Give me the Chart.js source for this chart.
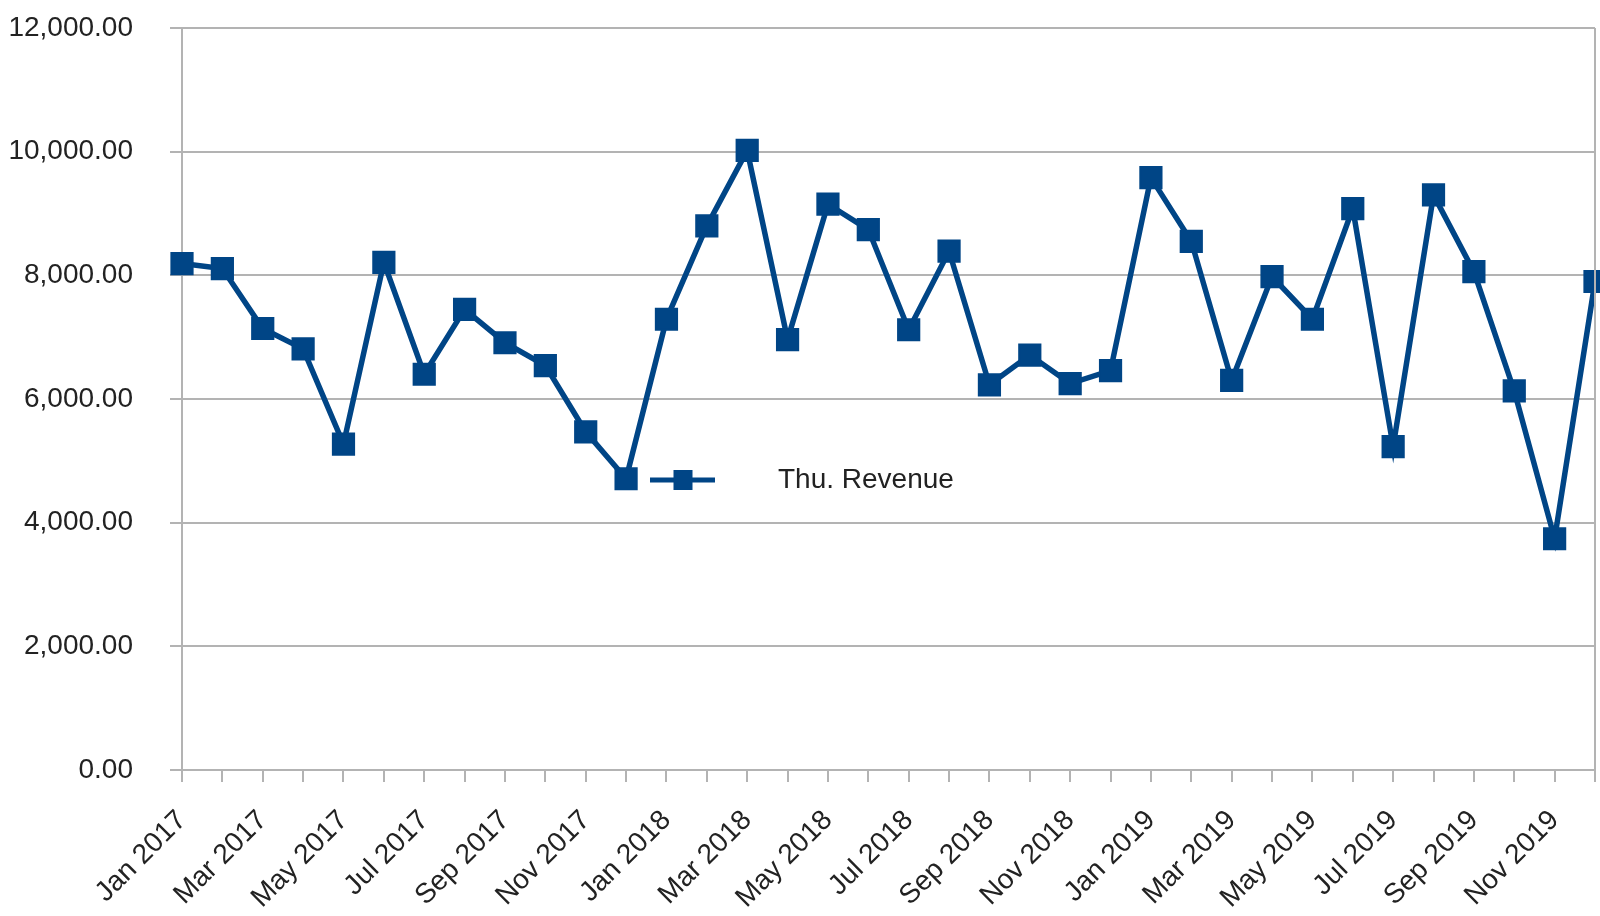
<!DOCTYPE html>
<html>
<head>
<meta charset="utf-8">
<script src="https://cdn.jsdelivr.net/npm/chart.js@4.4.1/dist/chart.umd.min.js"></script>
<style>
	html, body { margin: 0; padding: 0; background: #fff; }
	#wrap { width: 1600px; height: 916px; }
</style>
</head>
<body>
<div id="wrap"><canvas id="revenue_chart"></canvas></div>
<script>
// monthly revenue, Jan 2017 - Dec 2019
let months = [
	'Jan 2017','Feb 2017','Mar 2017','Apr 2017','May 2017','Jun 2017','Jul 2017','Aug 2017','Sep 2017','Oct 2017','Nov 2017','Dec 2017',
	'Jan 2018','Feb 2018','Mar 2018','Apr 2018','May 2018','Jun 2018','Jul 2018','Aug 2018','Sep 2018','Oct 2018','Nov 2018','Dec 2018',
	'Jan 2019','Feb 2019','Mar 2019','Apr 2019','May 2019','Jun 2019','Jul 2019','Aug 2019','Sep 2019','Oct 2019','Nov 2019','Dec 2019'
];
let revenue = [
	8190, 8110, 7140, 6810, 5270, 8210, 6400, 7450, 6910, 6540, 5470, 4710,
	7290, 8800, 10020, 6960, 9150, 8740, 7120, 8390, 6230, 6710, 6250, 6460,
	9580, 8550, 6300, 7980, 7290, 9080, 5230, 9300, 8060, 6130, 3740, 7900
];
let y_ticks = [0, 2000, 4000, 6000, 8000, 10000, 12000];
let series_name = 'Thu. Revenue';

let line_color = '#004586';
let grid_color = '#b3b3b3';
let text_color = '#222';
let font_family = '"Liberation Sans", Arial, sans-serif';

// right wall of the plot area
let frame_plugin = {
	id: 'frame',
	afterDraw: function(chart){
		let ctx = chart.ctx;
		let a = chart.chartArea;
		ctx.save();
		ctx.strokeStyle = grid_color;
		ctx.lineWidth = 2;
		ctx.beginPath();
		ctx.moveTo(a.right, a.top);
		ctx.lineTo(a.right, a.bottom);
		ctx.stroke();
		ctx.restore();
	}
};

// legend sitting inside the plot, like the original
let legend_plugin = {
	id: 'innerLegend',
	afterDraw: function(chart){
		let ctx = chart.ctx;
		let x0 = 650, x1 = 715, y = 480;
		ctx.save();
		ctx.strokeStyle = line_color;
		ctx.lineWidth = 5;
		ctx.beginPath();
		ctx.moveTo(x0, y);
		ctx.lineTo(x1, y);
		ctx.stroke();
		ctx.fillStyle = line_color;
		ctx.fillRect((x0 + x1) / 2 - 9, y - 10, 19, 20);
		ctx.fillStyle = text_color;
		ctx.font = '28px ' + font_family;
		ctx.textBaseline = 'middle';
		ctx.fillText(chart.data.datasets[0].label, 778, y);
		ctx.restore();
	}
};

let ctx = document.getElementById('revenue_chart').getContext('2d');

let datasets = [{
	'label': series_name,
	'data': revenue,
	'borderColor': line_color,
	'backgroundColor': line_color,
	'borderWidth': 5.5,
	'pointStyle': 'rect',
	'pointRadius': 15,
	'pointBorderWidth': 2,
	'pointHoverRadius': 15,
	'tension': 0,
	'clip': false
}];

let myChart = new Chart(ctx, {
	'type': 'line',
	'data': {'labels': months, 'datasets': datasets},
	'options': {
		'responsive': true,
		'maintainAspectRatio': false,
		'animation': false,
		'layout': {'autoPadding': false, 'padding': {'top': 28, 'right': 5, 'bottom': 0, 'left': 0}},
		'plugins': {'legend': {'display': false}, 'tooltip': {'enabled': false}},
		'scales': {
			'x': {
				'offset': false,
				'afterFit': function(axis){
					axis.paddingLeft = 0;
					axis.paddingRight = 0;
					axis.height = 146;
				},
				'grid': {'drawOnChartArea': false, 'drawTicks': true, 'tickLength': 12, 'color': grid_color, 'lineWidth': 2},
				'border': {'display': true, 'color': grid_color, 'width': 2},
				'ticks': {
					'autoSkip': false,
					'maxRotation': 45,
					'minRotation': 45,
					'padding': 22,
					'color': text_color,
					'font': {'size': 28, 'family': font_family},
					'callback': function(val, i){ return i % 2 == 0 ? months[i] : ''; }
				}
			},
			'y': {
				'min': 0,
				'max': 12000,
				'afterBuildTicks': function(axis){ axis.ticks = y_ticks.map(function(v){ return {'value': v}; }); },
				'afterFit': function(axis){
					axis.width = 182;
					axis.paddingTop = 0;
					axis.paddingBottom = 0;
				},
				'grid': {'color': grid_color, 'lineWidth': 2, 'tickLength': 12},
				'border': {'display': true, 'color': grid_color, 'width': 2},
				'ticks': {
					'padding': 37,
					'color': text_color,
					'font': {'size': 28, 'family': font_family},
					'callback': function(v){ return v.toLocaleString('en-US', {'minimumFractionDigits': 2, 'maximumFractionDigits': 2}); }
				}
			}
		}
	},
	'plugins': [frame_plugin, legend_plugin]
});
</script>
</body>
</html>
